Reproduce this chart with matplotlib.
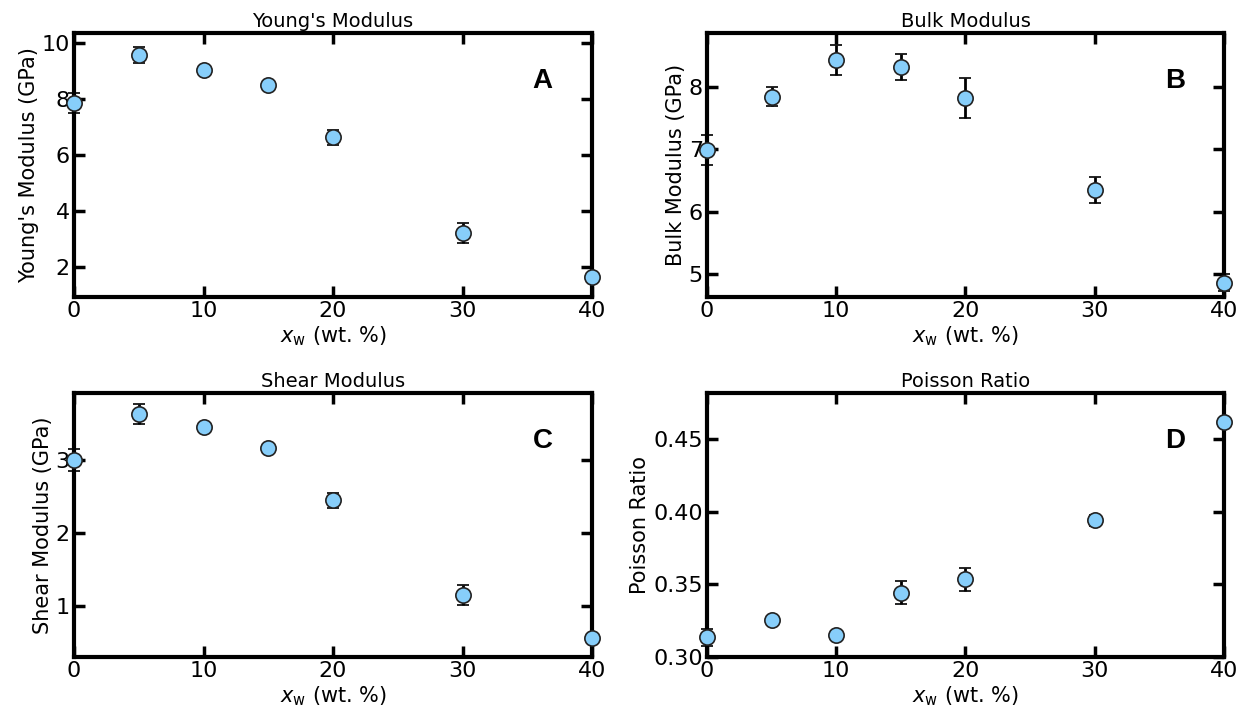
import numpy as np
import matplotlib.pyplot as plt

# weight fraction of water (wt. %)
xw = [0, 5, 10, 15, 20, 30, 40]

youngs = [7.86, 9.58, 9.04, 8.49, 6.63, 3.21, 1.63]
youngs_err = [0.35, 0.30, 0.10, 0.15, 0.28, 0.35, 0.10]

bulk = [6.99, 7.845, 8.43, 8.32, 7.83, 6.35, 4.86]
bulk_err = [0.24, 0.155, 0.24, 0.21, 0.32, 0.21, 0.14]

shear = [3.00, 3.627, 3.444, 3.16, 2.444, 1.15, 0.56]
shear_err = [0.15, 0.14, 0.04, 0.04, 0.10, 0.14, 0.03]

poisson = [0.3136, 0.3256, 0.315, 0.3442, 0.3535, 0.3942, 0.462]
poisson_err = [0.006, 0.002, 0.002, 0.008, 0.008, 0.004, 0.003]

panels = [
    ("Young's Modulus", "Young's Modulus (GPa)", youngs, youngs_err, (0.91, 10.37), [2, 4, 6, 8, 10], None, "A"),
    ("Bulk Modulus", "Bulk Modulus (GPa)", bulk, bulk_err, (4.63, 8.87), [5, 6, 7, 8], None, "B"),
    ("Shear Modulus", "Shear Modulus (GPa)", shear, shear_err, (0.30, 3.915), [1, 2, 3], None, "C"),
    ("Poisson Ratio", "Poisson Ratio", poisson, poisson_err, (0.30, 0.482), [0.30, 0.35, 0.40, 0.45], "%.2f", "D"),
]

W, H = 1247, 717
fig = plt.figure(figsize=(W / 100, H / 100), dpi=100)

# axes boxes in pixels: left, top, right, bottom
boxes = [(74, 33, 592, 297), (707, 33, 1224, 297),
         (74, 393, 592, 657), (707, 393, 1224, 657)]

for (title, ylabel, vals, errs, ylim, yticks, fmt, letter), (l, t, r, b) in zip(panels, boxes):
    ax = fig.add_axes([l / W, 1 - b / H, (r - l) / W, (b - t) / H])
    ax.errorbar(xw, vals, yerr=errs, fmt='o', color='k', ecolor='k',
                markerfacecolor='#87CEFA', markeredgecolor='#222222',
                markersize=11, markeredgewidth=1.2, elinewidth=2,
                capsize=4, capthick=2, clip_on=False, zorder=3)
    ax.set_xlim(0, 40)
    ax.set_ylim(*ylim)
    ax.set_xticks([0, 10, 20, 30, 40])
    ax.set_yticks(yticks)
    if fmt:
        ax.set_yticklabels([fmt % v for v in yticks])
    ax.tick_params(direction='in', top=True, right=True, length=8, width=2.5,
                   labelsize=16, pad=3)
    for s in ax.spines.values():
        s.set_linewidth(3)
    ax.set_title(title, fontsize=14, pad=4)
    ax.set_ylabel(ylabel, fontsize=15, labelpad=2)
    ax.set_xlabel(r'$x_\mathrm{w}$ (wt. %)', fontsize=15, labelpad=2)
    ax.text(0.905, 0.82, letter, transform=ax.transAxes, fontsize=20,
            fontweight='bold', family='Liberation Sans', ha='center', va='center')

plt.savefig('out.png', dpi=100)
